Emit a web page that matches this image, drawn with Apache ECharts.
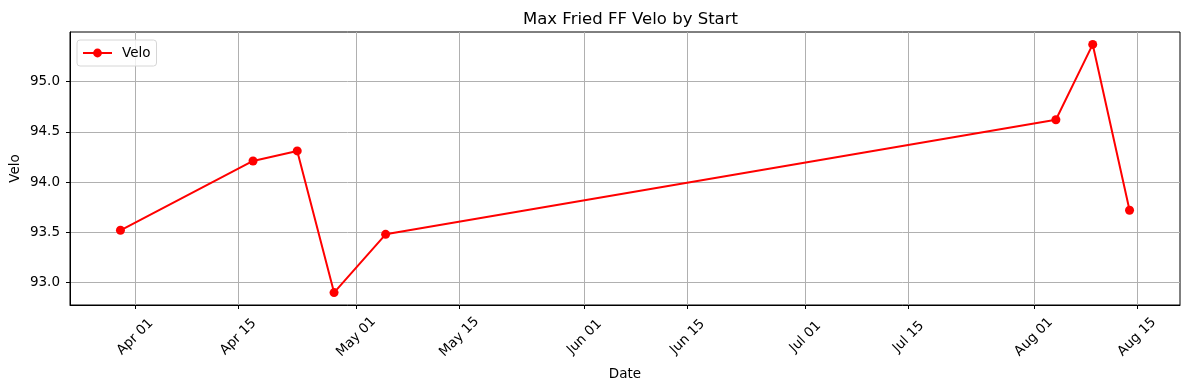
<!DOCTYPE html>
<html>
<head>
<meta charset="utf-8">
<script src="https://cdn.jsdelivr.net/npm/echarts@6/dist/echarts.min.js"></script>
<style>html,body{margin:0;padding:0;background:#fff}#c{width:1189px;height:390px}</style>
</head>
<body>
<div id="c"></div>
<script>
const dates = ['2024-03-30','2024-04-17','2024-04-23','2024-04-28','2024-05-05','2024-08-04','2024-08-09','2024-08-14'];
const velo = [93.52, 94.21, 94.31, 92.90, 93.48, 94.62, 95.37, 93.72];
const xTickDates = ['2024-04-01','2024-04-15','2024-05-01','2024-05-15','2024-06-01','2024-06-15','2024-07-01','2024-07-15','2024-08-01','2024-08-15'];
const yTicks = [93.0, 93.5, 94.0, 94.5, 95.0];
const monthNames = ['Jan','Feb','Mar','Apr','May','Jun','Jul','Aug','Sep','Oct','Nov','Dec'];

const ts = d => Date.parse(d + 'T00:00:00Z');
const xs = dates.map(ts);
const xSpan = xs[xs.length-1] - xs[0];
const xMin = xs[0] - 0.05*xSpan, xMax = xs[xs.length-1] + 0.05*xSpan;
const vMin = Math.min(...velo), vMax = Math.max(...velo), vSpan = vMax - vMin;
const yMin = vMin - 0.05*vSpan, yMax = vMax + 0.05*vSpan;
const xTicks = xTickDates.map(ts);

const font = 'DejaVu Sans';
const chart = echarts.init(document.getElementById('c'));
chart.setOption({
  animation: false,
  textStyle: {fontFamily: font},
  title: {text: 'Max Fried FF Velo by Start', left: 518, top: 6,
    textStyle: {fontFamily: font, fontSize: 16.5, fontWeight: 'normal', color: '#000'}},
  grid: {left: 70, right: 9, top: 32, bottom: 85, show: true, borderColor: '#000', borderWidth: 1,
    outerBoundsMode: 'none', containLabel: false},
  legend: {left: 77, top: 40, padding: [6, 6, 6, 5], itemWidth: 29, itemHeight: 11, itemGap: 8,
    borderColor: '#d6d6d6', borderWidth: 1, borderRadius: 3, backgroundColor: 'rgba(255,255,255,0.8)',
    textStyle: {fontFamily: font, fontSize: 13.5, color: '#000', padding: [0, 0, 0, 5]}, data: ['Velo']},
  xAxis: {
    type: 'value', min: xMin, max: xMax,
    name: 'Date', nameLocation: 'middle', nameGap: 62, nameMoveOverlap: false,
    nameTextStyle: {fontFamily: font, fontSize: 13.5, color: '#000'},
    axisLine: {show: true, lineStyle: {color: '#000', width: 1}},
    axisTick: {show: true, customValues: xTicks, length: 4, lineStyle: {color: '#000'}},
    axisLabel: {customValues: xTicks, rotate: 45, align: 'center', verticalAlign: 'middle', margin: 32,
      fontFamily: font, fontSize: 13.5, color: '#000',
      formatter: v => { const d = new Date(v); return monthNames[d.getUTCMonth()] + ' ' + String(d.getUTCDate()).padStart(2,'0'); }},
    splitLine: {show: true, lineStyle: {color: '#b0b0b0', width: 1}}
  },
  yAxis: {
    type: 'value', min: yMin, max: yMax,
    name: 'Velo', nameLocation: 'middle', nameGap: 48, nameRotate: 90, nameMoveOverlap: false,
    nameTextStyle: {fontFamily: font, fontSize: 13.5, color: '#000'},
    axisLine: {show: true, lineStyle: {color: '#000', width: 1}},
    axisTick: {show: true, customValues: yTicks, length: 4, lineStyle: {color: '#000'}},
    axisLabel: {customValues: yTicks, margin: 10, fontFamily: font, fontSize: 13.5, color: '#000',
      formatter: v => v.toFixed(1)},
    splitLine: {show: true, lineStyle: {color: '#b0b0b0', width: 1}}
  },
  series: [{
    name: 'Velo', type: 'line',
    data: xs.map((x, i) => [x, velo[i]]),
    lineStyle: {color: '#ff0000', width: 2},
    itemStyle: {color: '#ff0000'},
    symbol: 'circle', symbolSize: 9, showSymbol: true
  }]
});
</script>
</body>
</html>
